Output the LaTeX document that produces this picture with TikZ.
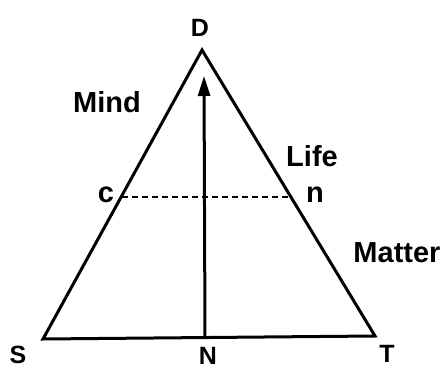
\documentclass[tikz,border=0pt]{standalone}
\usepackage{fontspec}
\setmainfont{Liberation Sans}
\usetikzlibrary{arrows.meta}
\begin{document}
\begin{tikzpicture}[x=1pt,y=-1pt,
  edge/.style={line width=3pt, line join=miter},
  lbl/.style={font=\bfseries\fontsize{29}{30}\selectfont, inner sep=0pt, anchor=center},
  vlbl/.style={font=\bfseries\fontsize{25}{26}\selectfont, inner sep=0pt, anchor=center},
  dashline/.style={line width=2pt, dash pattern=on 6pt off 4pt}]
\useasboundingbox (0,0) rectangle (445,369);
\coordinate (Dp) at (202,50);
\coordinate (Sp) at (43,339);
\coordinate (Tp) at (375,336);
\coordinate (Np) at (205,337.5);
\coordinate (tip) at (204,76);
\coordinate (cp) at (122,197);
\coordinate (np) at (291,197);
\draw[edge] (Sp) -- (Dp) -- (Tp) -- cycle;
\draw[line width=3pt, -{Triangle[length=20pt,width=12pt]}] (Np) -- (tip);
\draw[dashline] (cp) -- (np);
\node[vlbl] (D) at (200,28) {D};
\node[vlbl] (S) at (18,355) {S};
\node[vlbl] (N) at (208,356) {N};
\node[vlbl] (T) at (387,354) {T};
\node[lbl] (c) at (106,195) {c};
\node[lbl] (n) at (315,195) {n};
\node[lbl] (Mind) at (107,102) {Mind};
\node[lbl] (Life) at (312,156) {Life};
\node[lbl] (Matter) at (397,253) {Matter};
\end{tikzpicture}
\end{document}
